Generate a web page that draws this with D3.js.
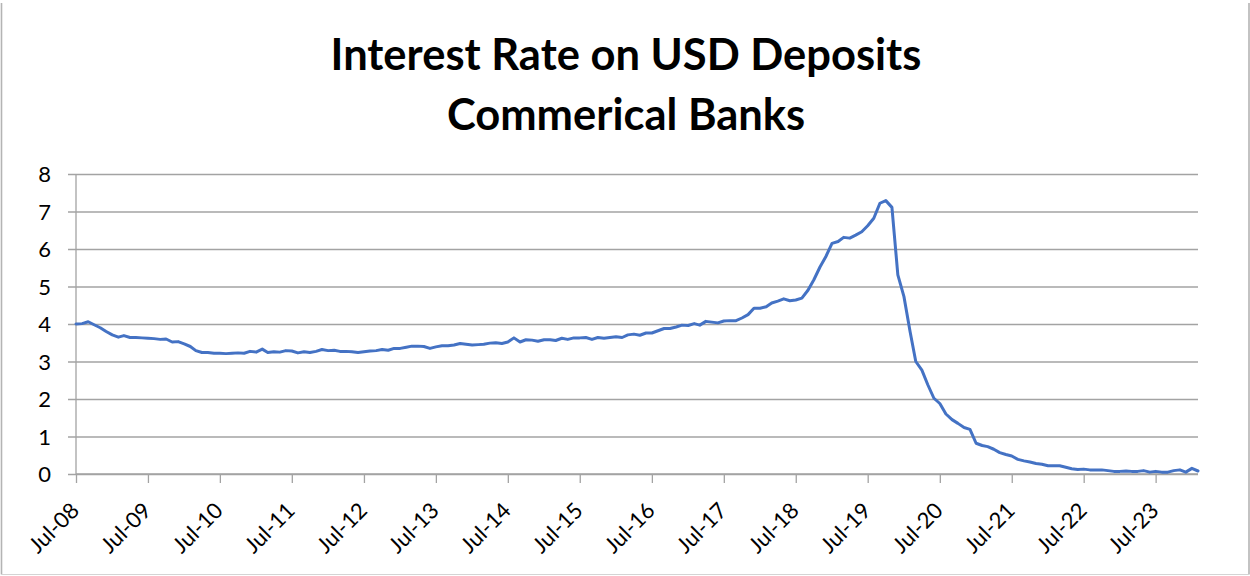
<!DOCTYPE html>
<html>
<head>
<meta charset="utf-8">
<script src="https://cdn.jsdelivr.net/npm/d3@7"></script>
<style>
  html, body { margin: 0; padding: 0; background: #fff; }
  svg { display: block; }
</style>
</head>
<body>
<svg id="chart" width="1250" height="576"></svg>
<script>
// Monthly interest rate on USD deposits, commercial banks (%), Jul-2008 .. Feb-2024
const startMonth = "Jul-08";
const rates = [
  4.00, 4.01, 4.06, 3.98, 3.90, 3.80, 3.71, 3.65, 3.69, 3.64, 3.64, 3.63,
  3.62, 3.61, 3.59, 3.60, 3.52, 3.53, 3.47, 3.40, 3.29, 3.24, 3.24, 3.22,
  3.22, 3.21, 3.22, 3.23, 3.22, 3.27, 3.25, 3.33, 3.24, 3.26, 3.25, 3.29,
  3.28, 3.23, 3.26, 3.24, 3.27, 3.32, 3.29, 3.30, 3.27, 3.27, 3.26, 3.24,
  3.26, 3.28, 3.29, 3.32, 3.30, 3.35, 3.35, 3.38, 3.41, 3.41, 3.40, 3.35,
  3.39, 3.42, 3.42, 3.44, 3.48, 3.46, 3.44, 3.45, 3.46, 3.49, 3.50, 3.48,
  3.52, 3.63, 3.52, 3.58, 3.57, 3.54, 3.58, 3.58, 3.56, 3.62, 3.59, 3.63,
  3.63, 3.64, 3.59, 3.64, 3.62, 3.64, 3.66, 3.64, 3.71, 3.73, 3.70, 3.76,
  3.76, 3.82, 3.88, 3.88, 3.92, 3.97, 3.96, 4.01, 3.97, 4.07, 4.05, 4.03,
  4.08, 4.09, 4.09, 4.16, 4.25, 4.42, 4.42, 4.46, 4.56, 4.61, 4.67, 4.62,
  4.64, 4.69, 4.90, 5.18, 5.52, 5.80, 6.15, 6.20, 6.31, 6.29, 6.37, 6.46,
  6.62, 6.82, 7.22, 7.29, 7.11, 5.31, 4.73, 3.80, 3.00, 2.77, 2.38, 2.02,
  1.88, 1.60, 1.45, 1.35, 1.24, 1.19, 0.82, 0.76, 0.73, 0.66, 0.57, 0.52,
  0.48, 0.39, 0.35, 0.32, 0.28, 0.26, 0.22, 0.22, 0.22, 0.18, 0.14, 0.12,
  0.13, 0.11, 0.11, 0.11, 0.09, 0.07, 0.07, 0.08, 0.07, 0.07, 0.09, 0.05,
  0.07, 0.05, 0.05, 0.09, 0.11, 0.05, 0.15, 0.08
];
const xTickLabels = ["Jul-08", "Jul-09", "Jul-10", "Jul-11", "Jul-12", "Jul-13", "Jul-14", "Jul-15",
                     "Jul-16", "Jul-17", "Jul-18", "Jul-19", "Jul-20", "Jul-21", "Jul-22", "Jul-23"];
const yTicks = [0, 1, 2, 3, 4, 5, 6, 7, 8];
const titleLines = ["Interest Rate on USD Deposits", "Commerical Banks"];

const parseMonth = d3.timeParse("%b-%y");
const fmtMonth = d3.timeFormat("%b-%y");
const t0 = parseMonth(startMonth);
const series = rates.map((v, i) => ({ date: d3.timeMonth.offset(t0, i), value: v }));

const svg = d3.select("#chart");
const W = 1250, H = 576;
const plot = { left: 76, right: 1198, top: 174, bottom: 474 };

// chart frame
const frame = svg.append("g").attr("fill", "none");
frame.append("line").attr("x1", 1.5).attr("x2", 1.5).attr("y1", 3).attr("y2", 574.5)
  .attr("stroke", "#b4b4b4").attr("stroke-width", 1.6);
frame.append("line").attr("x1", 1249).attr("x2", 1249).attr("y1", 3).attr("y2", 574.5)
  .attr("stroke", "#b4b4b4").attr("stroke-width", 1.6);
frame.append("line").attr("x1", 1.5).attr("x2", 1249).attr("y1", 574.5).attr("y2", 574.5)
  .attr("stroke", "#d4d4d4").attr("stroke-width", 1.2);

const x = d3.scaleTime()
  .domain([series[0].date, series[series.length - 1].date])
  .range([plot.left, plot.right]);
const y = d3.scaleLinear().domain([0, 8]).range([plot.bottom, plot.top]);

const gridColor = "#a3a3a3";

// horizontal gridlines with outside ticks
const yAxis = svg.append("g")
  .attr("transform", `translate(${plot.left},0)`)
  .call(d3.axisLeft(y).tickValues(yTicks).tickSize(8).tickPadding(17).tickFormat(d3.format("d")));
yAxis.select(".domain").attr("stroke", gridColor).attr("stroke-width", 1.3)
  .attr("d", `M0,${plot.top}V${plot.bottom}`);
yAxis.selectAll(".tick line").attr("stroke", gridColor).attr("stroke-width", 1.3)
  .attr("x1", -8).attr("x2", plot.right - plot.left);
yAxis.selectAll(".tick text")
  .attr("fill", "#000").attr("font-family", "Lato, 'Open Sans', sans-serif")
  .attr("font-size", 22).attr("dy", "0.36em");

// x axis with yearly July ticks
const tickDates = xTickLabels.map(parseMonth);
const xAxis = svg.append("g")
  .attr("transform", `translate(0,${plot.bottom})`)
  .call(d3.axisBottom(x).tickValues(tickDates).tickSize(9).tickFormat(fmtMonth));
xAxis.select(".domain").attr("stroke", gridColor).attr("stroke-width", 1.3)
  .attr("d", `M${plot.left},0H${plot.right}`);
xAxis.selectAll(".tick line").attr("stroke", gridColor).attr("stroke-width", 1.3);
xAxis.selectAll(".tick text")
  .attr("fill", "#000").attr("font-family", "Lato, 'Open Sans', sans-serif")
  .attr("font-size", 22)
  .attr("text-anchor", "end")
  .attr("y", 0).attr("dy", 0)
  .attr("transform", "translate(4,38) rotate(-45)");

// the rate line
const line = d3.line().x(d => x(d.date)).y(d => y(d.value));
svg.append("path")
  .datum(series)
  .attr("fill", "none")
  .attr("stroke", "#4472C4")
  .attr("stroke-width", 3)
  .attr("stroke-linejoin", "round")
  .attr("stroke-linecap", "round")
  .attr("d", line);

// two-line bold title, sized to a fixed span
const title = svg.append("g")
  .attr("font-family", "Lato, 'Open Sans', sans-serif")
  .attr("font-weight", 700)
  .attr("fill", "#000")
  .attr("text-anchor", "middle");
const baselines = [69.5, 130];
const t1 = title.selectAll("text").data(titleLines).join("text")
  .attr("x", 626)
  .attr("y", (d, i) => baselines[i])
  .attr("font-size", 47)
  .text(d => d);
const w0 = t1.nodes()[0].getComputedTextLength();
const fs = 47 * 591 / w0;
t1.attr("font-size", fs);
</script>
</body>
</html>
